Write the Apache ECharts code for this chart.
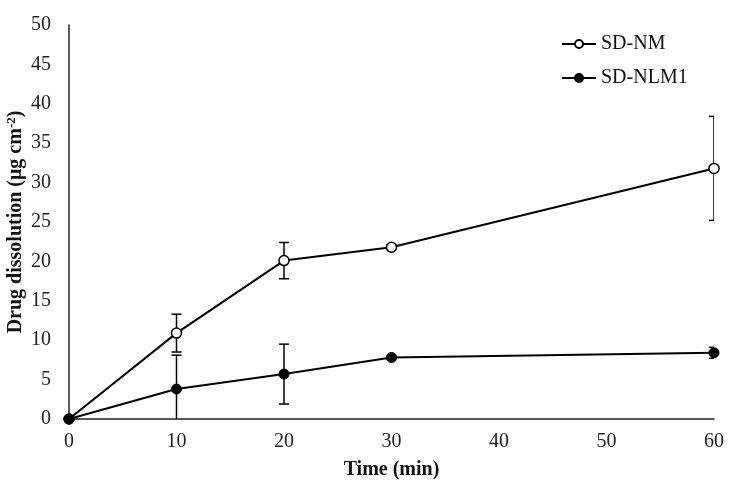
<!DOCTYPE html>
<html>
<head>
<meta charset="utf-8">
<script src="https://cdn.jsdelivr.net/npm/echarts@6/dist/echarts.min.js"></script>
<style>
html,body{margin:0;padding:0;background:#fff;}
#chart{width:732px;height:496px;}
</style>
</head>
<body>
<div id="chart"></div>
<script>
const timeMin = [0, 10, 20, 30, 60];
const seriesNames = ['SD-NM', 'SD-NLM1'];
const sdNM = [0, 10.9, 20.1, 21.8, 31.8];
const sdNMErr = [0, 2.4, 2.3, 0.3, 6.6];
const sdNLM1 = [0, 3.8, 5.7, 7.8, 8.4];
const sdNLM1Err = [0, 4.3, 3.8, 0.2, 0.7];
const yTicks = [0, 5, 10, 15, 20, 25, 30, 35, 40, 45, 50];
const xTicks = [0, 10, 20, 30, 40, 50, 60];

const FONT = '"Liberation Serif", "DejaVu Serif", serif';

function pairs(ys) { return timeMin.map((t, i) => [t, ys[i]]); }
function errData(ys, es) { return timeMin.map((t, i) => [t, ys[i] - es[i], ys[i] + es[i]]); }

function errorRender(params, api) {
  const x = api.value(0);
  const lo = api.coord([x, api.value(1)]);
  const hi = api.coord([x, api.value(2)]);
  const half = 5;
  const style = { stroke: '#000', lineWidth: 1.5, fill: null };
  return {
    type: 'group',
    children: [
      { type: 'line', shape: { x1: hi[0], y1: hi[1], x2: lo[0], y2: lo[1] }, style },
      { type: 'line', shape: { x1: hi[0] - half, y1: hi[1], x2: hi[0] + half, y2: hi[1] }, style },
      { type: 'line', shape: { x1: lo[0] - half, y1: lo[1], x2: lo[0] + half, y2: lo[1] }, style }
    ]
  };
}

const chart = echarts.init(document.getElementById('chart'));
chart.setOption({
  animation: false,
  backgroundColor: '#fff',
  textStyle: { fontFamily: FONT },
  grid: { left: 69, right: 18, top: 25, bottom: 77, containLabel: false, outerBoundsMode: 'none' },
  legend: {
    orient: 'vertical',
    left: 556,
    top: 29,
    itemGap: 14,
    itemWidth: 34,
    itemHeight: 10,
    textStyle: { fontFamily: FONT, fontSize: 20, color: '#111' },
    data: seriesNames
  },
  xAxis: {
    type: 'value',
    min: 0, max: 60, interval: 10,
    axisLine: { lineStyle: { color: '#222', width: 1.5 } },
    axisTick: { show: false },
    splitLine: { show: false },
    axisLabel: { fontFamily: FONT, fontSize: 20, color: '#222', margin: 13,
      formatter: v => xTicks.includes(v) ? String(v) : '' },
    name: 'Time (min)',
    nameLocation: 'middle',
    nameGap: 41,
    nameMoveOverlap: false,
    nameTextStyle: { fontFamily: FONT, fontSize: 20, fontWeight: 'bold', color: '#111' }
  },
  yAxis: {
    type: 'value',
    min: 0, max: 50, interval: 5,
    axisLine: { show: true, lineStyle: { color: '#222', width: 1.5 } },
    axisTick: { show: false },
    splitLine: { show: false },
    axisLabel: { fontFamily: FONT, fontSize: 20, color: '#222', margin: 18,
      formatter: v => yTicks.includes(v) ? String(v) : '' },
    name: 'Drug dissolution (μg cm{sup|-2})',
    nameLocation: 'middle',
    nameGap: 42,
    nameMoveOverlap: false,
    nameTextStyle: { fontFamily: FONT, fontSize: 20, fontWeight: 'bold', color: '#111',
      rich: { sup: { fontFamily: FONT, fontSize: 13, fontWeight: 'bold', color: '#111', verticalAlign: 'top', padding: [0, 0, 9, 0] } } }
  },
  series: [
    {
      type: 'custom', name: 'errNM', renderItem: errorRender, clip: true,
      data: errData(sdNM, sdNMErr), z: 1, silent: true
    },
    {
      type: 'custom', name: 'errNLM1', renderItem: errorRender, clip: true,
      data: errData(sdNLM1, sdNLM1Err), z: 1, silent: true
    },
    {
      name: seriesNames[0], type: 'line', data: pairs(sdNM), z: 3,
      symbol: 'circle', symbolSize: 10, showAllSymbol: true,
      lineStyle: { color: '#000', width: 2 },
      itemStyle: { color: '#fff', borderColor: '#000', borderWidth: 1.5 }
    },
    {
      name: seriesNames[1], type: 'line', data: pairs(sdNLM1), z: 4,
      symbol: 'circle', symbolSize: 10, showAllSymbol: true,
      lineStyle: { color: '#000', width: 2 },
      itemStyle: { color: '#000', borderColor: '#000', borderWidth: 1 }
    }
  ]
});
</script>
</body>
</html>
